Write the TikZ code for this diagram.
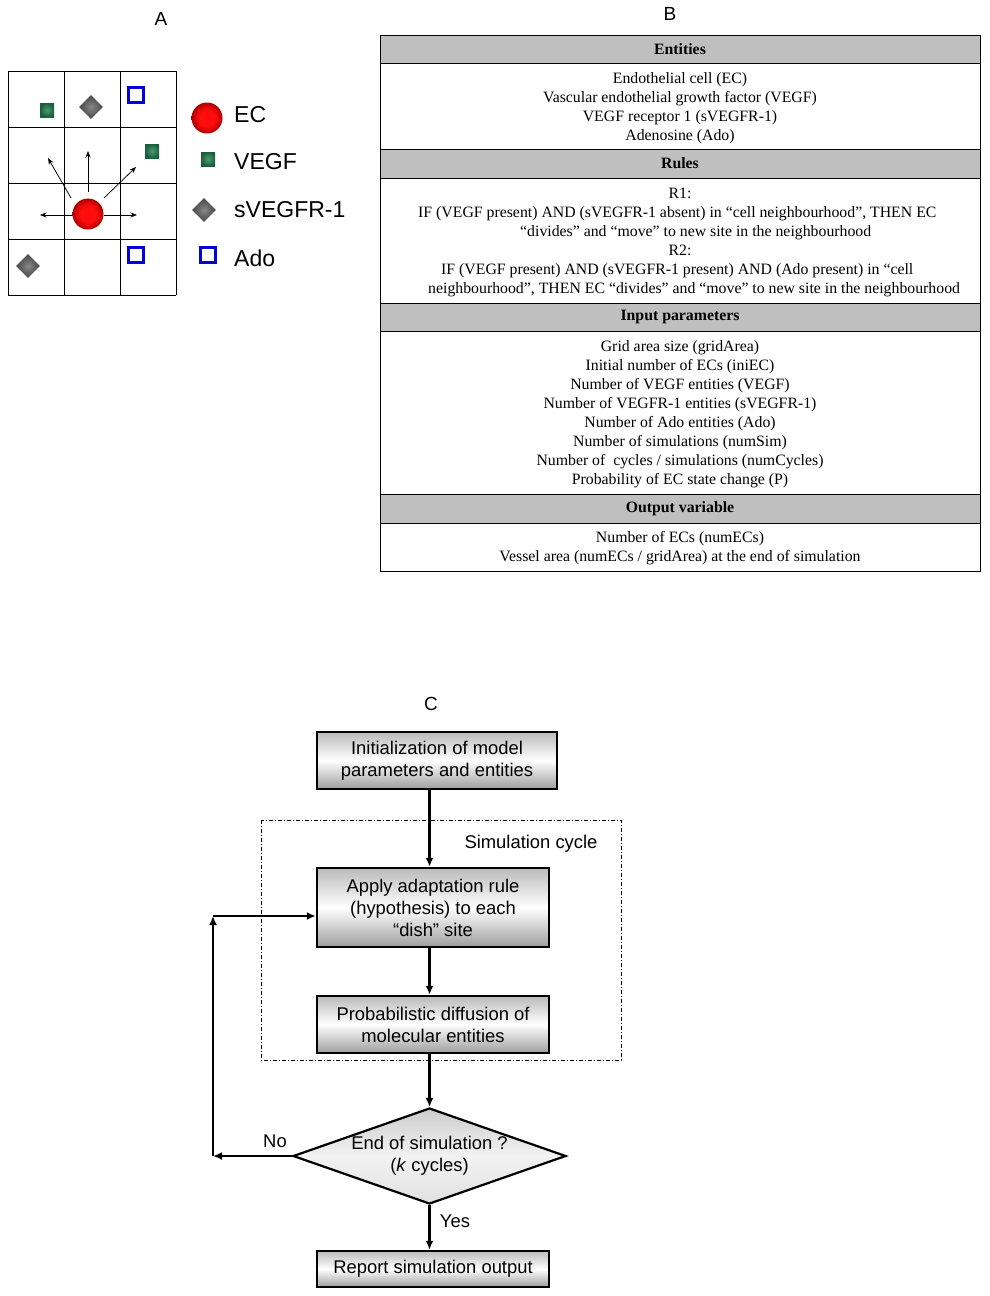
\documentclass[tikz,border=0pt]{standalone}
\usepackage{fontspec}
\setmainfont{Liberation Sans}
\newfontfamily\tablefont{Liberation Serif}
\usetikzlibrary{shapes.geometric,arrows.meta,calc}
\definecolor{ecred}{RGB}{255,12,12}
\definecolor{ecdark}{RGB}{175,0,0}
\definecolor{vgin}{RGB}{75,155,115}
\definecolor{vgout}{RGB}{25,95,60}
\definecolor{dmin}{RGB}{135,135,135}
\definecolor{dmout}{RGB}{70,70,70}
\definecolor{adoblue}{RGB}{0,0,215}
\pgfdeclareradialshading{ecshade}{\pgfpoint{0bp}{0bp}}{color(0bp)=(ecred); color(13bp)=(ecred); color(25bp)=(ecdark); color(50bp)=(ecdark)}
\pgfdeclareradialshading{vgshade}{\pgfpoint{0bp}{0bp}}{color(0bp)=(vgin); color(25bp)=(vgout); color(50bp)=(vgout)}
\pgfdeclareradialshading{dmshade}{\pgfpoint{0bp}{0bp}}{color(0bp)=(dmin); color(25bp)=(dmout); color(50bp)=(dmout)}
\begin{document}
\begin{tikzpicture}[x=1pt,y=-1pt,
  gridline/.style={line width=0.9pt},
  mv/.style={-{Stealth[length=6.5pt,width=5pt]},line width=0.75pt},
  ec/.style={circle,minimum size=31pt,inner sep=0pt,shading=ecshade},
  vegf/.style={rectangle,minimum size=14pt,inner sep=0pt,shading=vgshade},
  svegf/.style={diamond,minimum width=24pt,minimum height=24pt,aspect=1,inner sep=0pt,shading=dmshade},
  ado/.style={rectangle,minimum size=15pt,inner sep=0pt,draw=adoblue,line width=2.2pt,fill=white},
  legtext/.style={anchor=west,inner sep=0pt,font=\fontsize{23}{28}\selectfont},
  panel/.style={font=\fontsize{19}{23}\selectfont,inner sep=0pt},
  hdr/.style={draw,line width=0.8pt,fill=gray!50,minimum width=600pt,inner sep=0pt,font=\tablefont\bfseries\fontsize{15.8}{19}\selectfont},
  body/.style={draw,line width=0.8pt,fill=white,minimum width=600pt,inner sep=0pt,align=center,font=\tablefont\fontsize{15.8}{19}\selectfont},
  rl/.style={inner sep=0pt,font=\tablefont\fontsize{15.8}{19}\selectfont},
  fbox/.style={draw,line width=2.5pt,top color=black!27,bottom color=black!38,middle color=white,align=center,inner sep=0pt,font=\fontsize{18.4}{22}\selectfont},
  ftext/.style={inner sep=0pt,font=\fontsize{18.4}{22}\selectfont},
  flow/.style={-{Latex[length=9pt,width=8pt]},line width=2.3pt},
]
\useasboundingbox (0,0) rectangle (989,1296);
\fill[white] (0,0) rectangle (989,1296);

% ---------------- Panel A ----------------
\node[panel] (labA) at (161,19) {A};
\foreach \x in {8,64,120,176} \draw[gridline] (\x,71) -- (\x,295);
\foreach \y in {71,127,183,239,295} \draw[gridline] (8,\y) -- (176,\y);

\node[vegf] (g1) at (47,110) {};
\node[svegf] (s1) at (91,107) {};
\node[ado] (a1) at (136,95) {};
\node[vegf] (g2) at (152,151) {};
\node[svegf] (s2) at (28,266) {};
\node[ado] (a2) at (136,255) {};

\coordinate (mUL) at (48,158);
\coordinate (mU) at (88,151);
\coordinate (mUR) at (136,167);
\coordinate (mL) at (40,215);
\coordinate (mR) at (137,215);
\draw[mv] (71,198) -- (mUL);
\draw[mv] (88,192) -- (mU);
\draw[mv] (104,198) -- (mUR);
\draw[mv] (73,215) -- (mL);
\draw[mv] (104,215) -- (mR);
\node[ec] (cell) at (88,214) {};

\node[ec] (lEC) at (207,118) {};
\node[legtext] (tEC) at (234,115) {EC};
\node[vegf] (lVG) at (208,159) {};
\node[legtext] (tVG) at (234,162) {VEGF};
\node[svegf] (lSV) at (204,210) {};
\node[legtext] (tSV) at (234,210) {sVEGFR-1};
\node[ado] (lAD) at (208,255) {};
\node[legtext] (tAD) at (234,258) {Ado};

% ---------------- Panel B ----------------
\node[panel] (labB) at (670,14) {B};
\node[hdr,minimum height=28pt] (hEnt) at (680,49) {Entities};
\node[body,minimum height=86pt] (bEnt) at (680,106) {};
\node[rl,anchor=base] (e1) at (680,83.5) {Endothelial cell (EC)};
\node[rl,anchor=base] (e2) at (680,102.5) {Vascular endothelial growth factor (VEGF)};
\node[rl,anchor=base] (e3) at (680,121.5) {VEGF receptor 1 (sVEGFR-1)};
\node[rl,anchor=base] (e4) at (680,140.5) {Adenosine (Ado)};
\node[hdr,minimum height=29pt] (hRul) at (680,163.5) {Rules};
\node[body,minimum height=125pt] (bRul) at (680,240.5) {};
\node[rl,anchor=base] (r1) at (680,198.5) {R1:};
\node[rl,anchor=base west] (r1a) at (418,217.5) {IF (VEGF present) AND (sVEGFR-1 absent) in “cell neighbourhood”, THEN EC};
\node[rl,anchor=base west] (r1b) at (520,236.5) {“divides” and “move” to new site in the neighbourhood};
\node[rl,anchor=base] (r2) at (680,255.5) {R2:};
\node[rl,anchor=base west] (r2a) at (441,274.5) {IF (VEGF present) AND (sVEGFR-1 present) AND (Ado present) in “cell};
\node[rl,anchor=base west] (r2b) at (428,293.5) {neighbourhood”, THEN EC “divides” and “move” to new site in the neighbourhood};
\node[hdr,minimum height=28pt] (hInp) at (680,317) {Input parameters};
\node[body,minimum height=163pt] (bInp) at (680,412.5) {};
\foreach \t [count=\i] in {Grid area size (gridArea),Initial number of ECs (iniEC),Number of VEGF entities (VEGF),Number of VEGFR-1 entities (sVEGFR-1),Number of Ado entities (Ado),Number of simulations (numSim),Number of\ \ cycles / simulations (numCycles),Probability of EC state change (P)}
  \node[rl,anchor=base] (p\i) at (680,{332.5+19*\i}) {\t};
\node[hdr,minimum height=29pt] (hOut) at (680,508.5) {Output variable};
\node[body,minimum height=48pt] (bOut) at (680,547) {};
\node[rl,anchor=base] (o1) at (680,542.5) {Number of ECs (numECs)};
\node[rl,anchor=base] (o2) at (680,561.5) {Vessel area (numECs / gridArea) at the end of simulation};

% ---------------- Panel C ----------------
\node[panel] (labC) at (431,704) {C};
\draw[line width=0.6pt,dash pattern=on 4pt off 2pt on 1pt off 2pt] (261,820) rectangle (621,1060);
\node[ftext] (simc) at (531,844) {Simulation cycle};

\node[fbox,minimum width=240pt,minimum height=57pt] (init) at (437,760.5) {Initialization of model\\parameters and entities};
\node[fbox,minimum width=232pt,minimum height=79pt] (apply) at (433,907.5) {Apply adaptation rule\\(hypothesis) to each\\“dish” site};
\node[fbox,minimum width=232pt,minimum height=57pt] (prob) at (433,1024.5) {Probabilistic diffusion of\\molecular entities};
\node[diamond,draw,line width=2.2pt,aspect=2.84,minimum width=273pt,minimum height=96pt,inner sep=0pt,top color=black!20,bottom color=black!12,middle color=black!5,align=center,font=\fontsize{18.4}{22}\selectfont] (dia) at (429.5,1156) {End of simulation ?\\(\textit{k} cycles)};
\node[fbox,minimum width=232pt,minimum height=36pt] (report) at (433,1269) {Report simulation output};

\draw[flow] (init.south -| dia.north) -- (apply.north -| dia.north);
\draw[flow] (apply.south -| dia.north) -- (prob.north -| dia.north);
\draw[flow] (prob.south -| dia.north) -- (dia.north);
\draw[flow] (dia.south) -- (report.north -| dia.south);

\coordinate (loopb) at (213,1156);
\coordinate (loopt) at (213,916);
\draw[flow] (dia.west) -- (loopb);
\draw[flow] (loopb) -- (loopt);
\draw[flow] (loopt) -- (loopt -| apply.west);

\node[ftext] (no) at (275,1141) {No};
\node[ftext] (yes) at (455,1221) {Yes};
\end{tikzpicture}
\end{document}
